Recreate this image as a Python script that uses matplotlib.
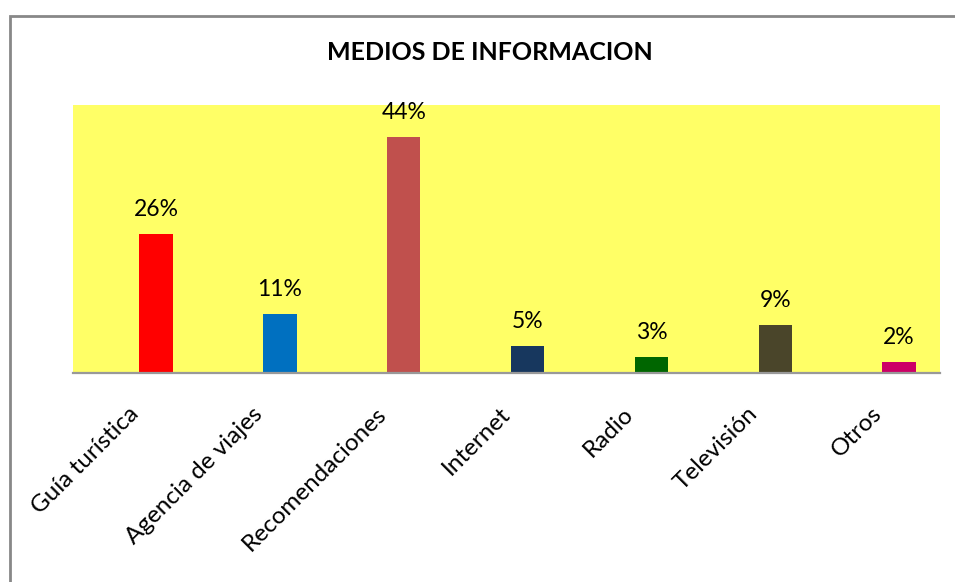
import matplotlib.pyplot as plt
from matplotlib.patches import Rectangle

categorias = ['Guía turística', 'Agencia de viajes', 'Recomendaciones', 'Internet',
              'Radio', 'Televisión', 'Otros']
porcentajes = [26, 11, 44, 5, 3, 9, 2]
colores = ['#FF0000', '#0070C0', '#C0504D', '#17375E', '#006600', '#4A452A', '#CC0066']
titulo = 'MEDIOS DE INFORMACION'

plt.rcParams['font.family'] = ['Lato', 'DejaVu Sans']

fig = plt.figure(figsize=(9.55, 5.82), dpi=100)
ax = fig.add_axes([73 / 955, 1 - 373 / 582, 867 / 955, 268 / 582])
ax.set_facecolor('#FFFF66')

x = list(range(len(categorias)))
# las barras van corridas a la derecha dentro de cada categoria
desplaz = 0.17
barras = ax.bar([i + desplaz for i in x], porcentajes, width=0.27, color=colores)
for b, v in zip(barras, porcentajes):
    ax.annotate(f'{v}%', (b.get_x() + b.get_width() / 2, v), xytext=(0, 10),
                textcoords='offset points', ha='center', va='bottom', fontsize=16.5)

ax.set_xlim(-0.5, len(categorias) - 0.5)
ax.set_ylim(0, 50)
ax.set_yticks([])
ax.set_xticks(x)
ax.set_xticklabels(categorias, rotation=45, ha='right', va='center',
                   rotation_mode='anchor', fontsize=17.5)
ax.tick_params(axis='x', length=0, pad=27)
for s in ['top', 'left', 'right']:
    ax.spines[s].set_visible(False)
ax.spines['bottom'].set_color('#999999')
ax.spines['bottom'].set_linewidth(1.6)

fig.text(490 / 955, 1 - 53 / 582, titulo, ha='center', va='center',
         fontsize=18, fontweight='bold')

# marco del grafico (solo se ve arriba y a la izquierda)
marco = Rectangle((9.5 / 955, -0.1), 1.2, (582 - 15.5) / 582 + 0.1, transform=fig.transFigure,
                  fill=False, edgecolor='#888888', linewidth=2.0, clip_on=False)
fig.patches.append(marco)

fig.savefig('out.png', dpi=100)
